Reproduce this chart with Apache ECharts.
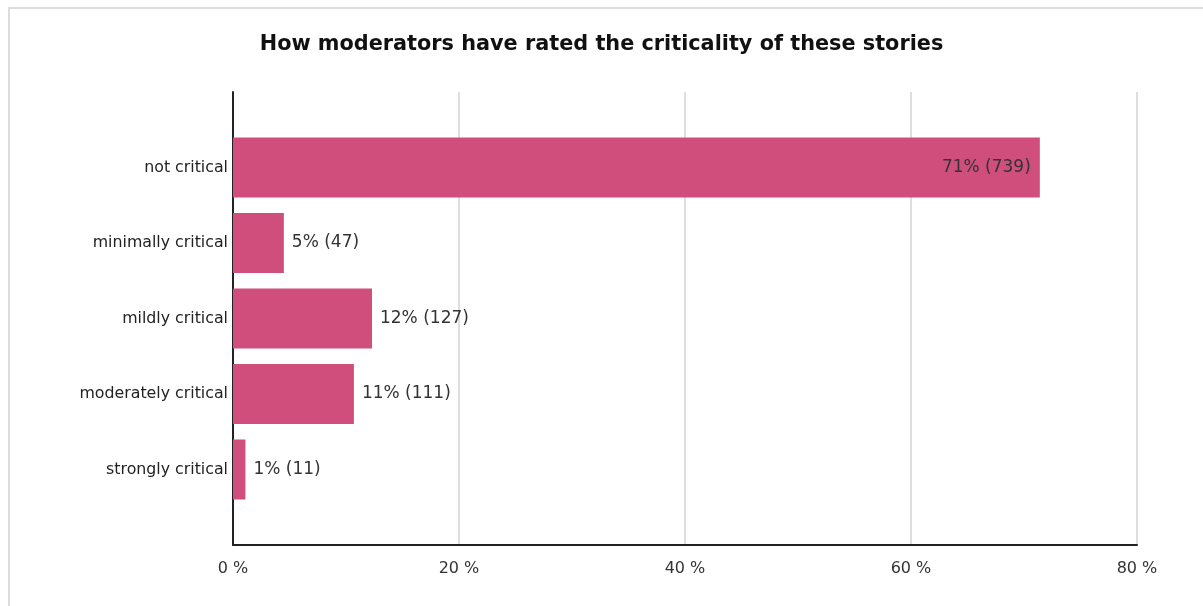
<!DOCTYPE html>
<html>
<head>
<meta charset="utf-8">
<script src="https://cdn.jsdelivr.net/npm/echarts@6/dist/echarts.min.js"></script>
<style>
html,body{margin:0;padding:0;background:#fff;}
#frame{position:absolute;left:8px;top:7px;width:1195px;height:599px;border-top:2px solid #dcdcdc;border-left:2px solid #dcdcdc;box-sizing:border-box;}
#chart{position:absolute;left:0;top:0;width:1203px;height:606px;}
</style>
</head>
<body>
<div id="frame"></div>
<div id="chart"></div>
<script>
var categories = ['not critical', 'minimally critical', 'mildly critical', 'moderately critical', 'strongly critical'];
var percentValues = [71.4, 4.5, 12.3, 10.7, 1.1];
var counts = [739, 47, 127, 111, 11];
var percentLabels = ['71%', '5%', '12%', '11%', '1%'];
var xTicks = [0, 20, 40, 60, 80];

var barColor = '#d04e7c';
var yData = [''].concat(categories).concat(['']);
var seriesData = [null];
for (var i = 0; i < categories.length; i++) {
  var item = {
    value: percentValues[i],
    label: { formatter: percentLabels[i] + ' (' + counts[i] + ')' }
  };
  if (i === 0) {
    item.label.position = 'insideRight';
    item.label.distance = 9;
  }
  seriesData.push(item);
}
seriesData.push(null);

var chart = echarts.init(document.getElementById('chart'), null, {renderer: 'canvas'});
chart.setOption({
  backgroundColor: 'transparent',
  animation: false,
  title: {
    text: 'How moderators have rated the criticality of these stories',
    left: 'center',
    top: 29,
    textStyle: { fontFamily: 'DejaVu Sans', fontWeight: 'bold', fontSize: 20.8, color: '#111' }
  },
  grid: { left: 233, right: 66, top: 92, bottom: 61, containLabel: false },
  xAxis: {
    type: 'value',
    min: xTicks[0],
    max: xTicks[xTicks.length - 1],
    interval: 20,
    axisLine: { show: true, lineStyle: { color: '#222', width: 2 } },
    axisTick: { show: false },
    axisLabel: {
      formatter: '{value} %',
      fontFamily: 'DejaVu Sans',
      fontSize: 16,
      color: '#333',
      margin: 16
    },
    splitLine: { show: true, lineStyle: { color: '#dedede', width: 2 } }
  },
  yAxis: {
    type: 'category',
    inverse: true,
    boundaryGap: false,
    data: yData,
    axisLine: { show: true, lineStyle: { color: '#222', width: 2 } },
    axisTick: { show: false },
    splitLine: { show: false },
    axisLabel: {
      fontFamily: 'DejaVu Sans',
      fontSize: 15.8,
      color: '#222',
      margin: 5
    }
  },
  series: [{
    type: 'bar',
    data: seriesData,
    barWidth: 60,
    itemStyle: { color: barColor },
    label: {
      show: true,
      position: 'right',
      distance: 8,
      fontFamily: 'DejaVu Sans',
      fontSize: 17,
      color: '#333'
    }
  }]
});
</script>
</body>
</html>
